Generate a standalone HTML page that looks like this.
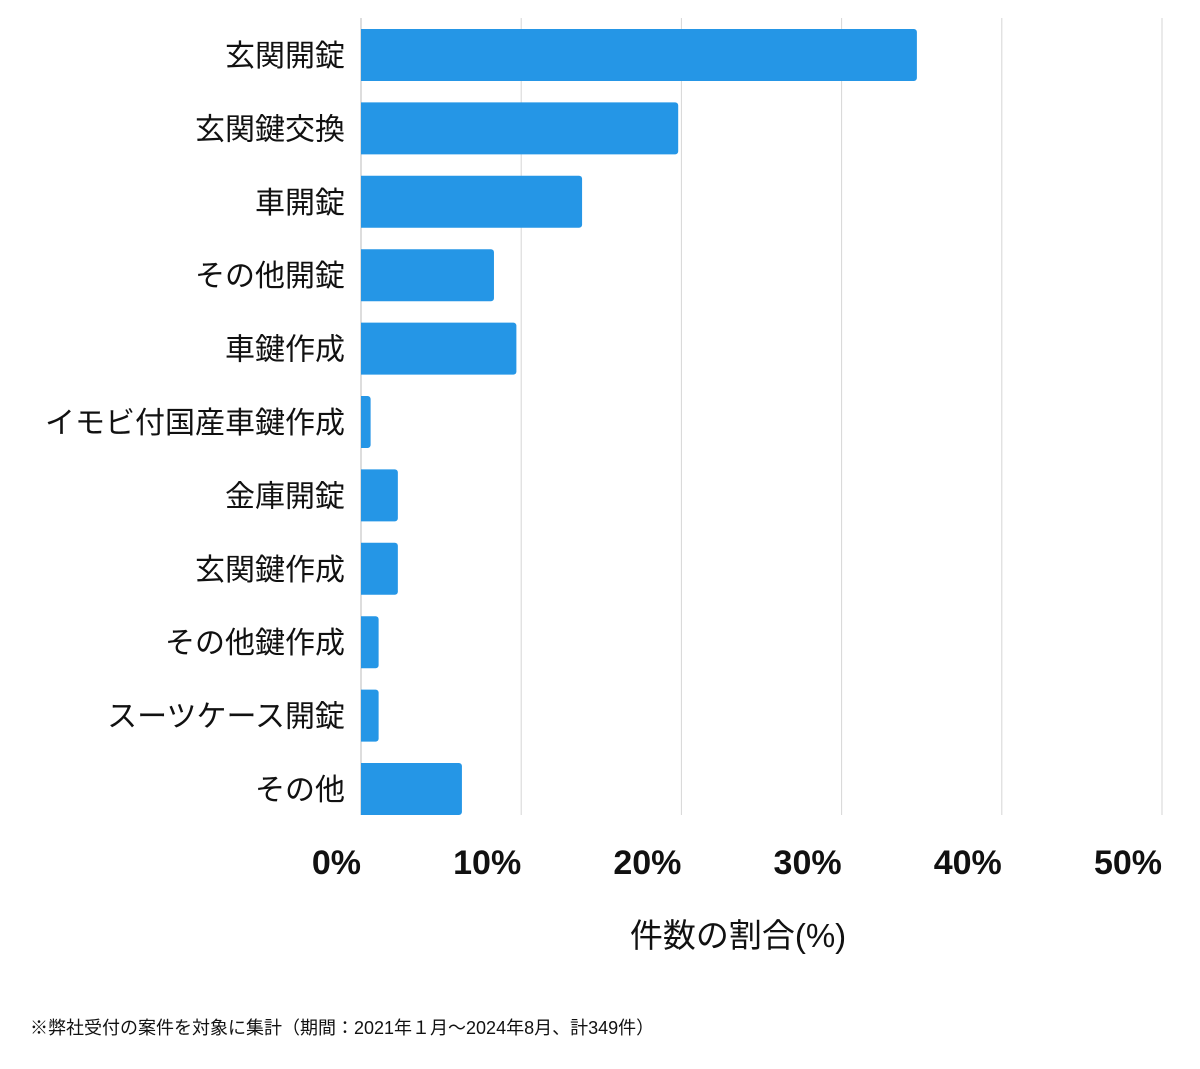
<!DOCTYPE html>
<html><head><meta charset="utf-8"><style>
body{margin:0;background:#fff;width:1200px;height:1069px;overflow:hidden}
svg{display:block}
text{font-family:"Liberation Sans","Noto Sans CJK JP",sans-serif}
</style></head><body>
<svg id="chart" width="1200" height="1069" viewBox="0 0 1200 1069">
<g id="grid"></g><g id="bars"></g><g id="cats"></g><g id="ticks"></g>
<text x="738" y="947" font-size="33" text-anchor="middle" fill="#111">件数の割合(%)</text>
<text x="30" y="1034" font-size="18" fill="#111">※弊社受付の案件を対象に集計（期間：2021年１月〜2024年8月、計349件）</text>
</svg>
<script>
const categories=["玄関開錠","玄関鍵交換","車開錠","その他開錠","車鍵作成","イモビ付国産車鍵作成","金庫開錠","玄関鍵作成","その他鍵作成","スーツケース開錠","その他"];
const values=[34.7,19.8,13.8,8.3,9.7,0.6,2.3,2.3,1.1,1.1,6.3];
const tickValues=[0,10,20,30,40,50];
const tickLabels=["0%","10%","20%","30%","40%","50%"];
const NS="http://www.w3.org/2000/svg";
const x0=361,x1=1162,maxV=50;
const xs=v=>x0+(x1-x0)*v/maxV;
const yc=i=>55+i*73.4;
function mk(t,a,p){const e=document.createElementNS(NS,t);for(const k in a)e.setAttribute(k,a[k]);p.appendChild(e);return e;}
const g=document.getElementById('grid'),b=document.getElementById('bars'),c=document.getElementById('cats'),tk=document.getElementById('ticks');
tickValues.forEach((v,i)=>{
 const l=mk('line',{x1:xs(v),x2:xs(v),y1:18,y2:815,stroke:v===0?'#bbb':'#d6d6d6','stroke-width':1},g);
 
 
 const t=mk('text',{x:xs(v),y:874,'font-size':34,'font-weight':'bold','text-anchor':'end',fill:'#111'},tk);
 t.textContent=tickLabels[i];
 
 
});
categories.forEach((cat,i)=>{
 const w=xs(values[i])-x0;
 const r=mk('path',{d:`M${x0},${yc(i)-26}h${w-3}a3,3 0 0 1 3,3v46a3,3 0 0 1 -3,3h${-(w-3)}z`,fill:'#2596e6'},b);
 
 
 const t=mk('text',{x:345,y:yc(i)+11,'font-size':30,'text-anchor':'end',fill:'#111'},c);
 t.textContent=cat;
 
 
});
</script>
</body></html>
